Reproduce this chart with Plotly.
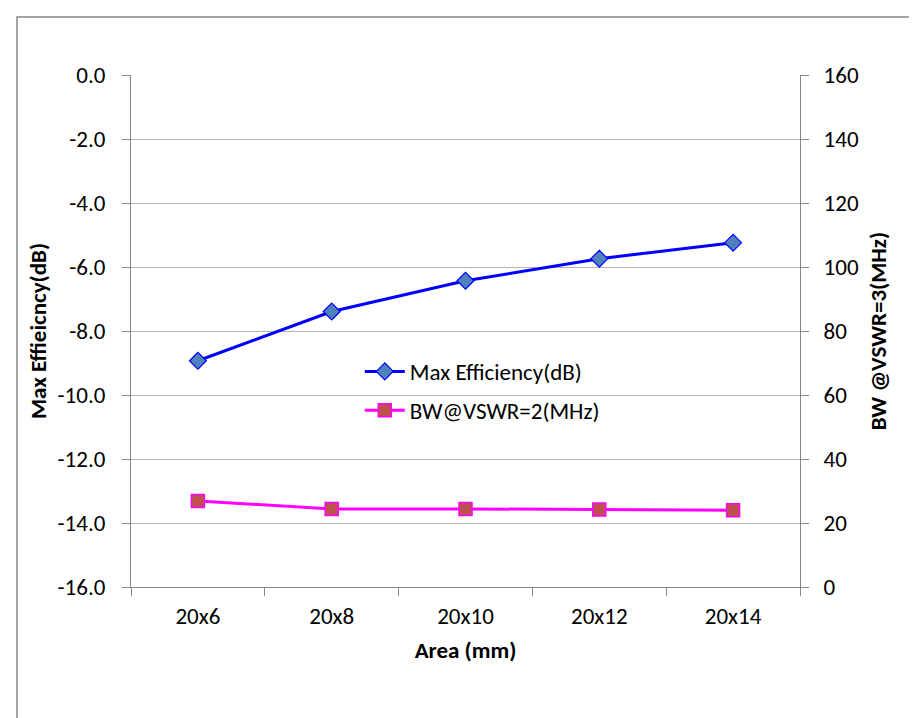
import plotly.graph_objects as go

categories = ["20x6", "20x8", "20x10", "20x12", "20x14"]
max_efficiency_db = [-8.93, -7.39, -6.43, -5.74, -5.24]
bw_mhz = [26.9, 24.4, 24.4, 24.2, 24.0]

left_ticks = [-16, -14, -12, -10, -8, -6, -4, -2, 0]
left_ticktext = ["%.1f" % v for v in left_ticks]
right_ticks = [0, 20, 40, 60, 80, 100, 120, 140, 160]

FONT = "Carlito, 'Liberation Sans Narrow', Calibri, 'Liberation Sans', sans-serif"
FS = 23
AXIS_COL = "#868686"
GRID_COL = "#b3b3b3"

fig = go.Figure()
fig.add_trace(go.Scatter(
    x=categories, y=max_efficiency_db, name="Max Efficiency(dB)",
    mode="lines+markers", legendgroup="a",
    line=dict(color="#0000ff", width=3),
    marker=dict(symbol="diamond", size=13, color="#4f81bd",
                line=dict(color="#0000ff", width=1.2)),
    yaxis="y",
))
fig.add_trace(go.Scatter(
    x=categories, y=bw_mhz, name="BW@VSWR=2(MHz)",
    mode="lines+markers", legendgroup="b",
    line=dict(color="#ff00ff", width=3),
    marker=dict(symbol="square", size=13, color="#c0504d",
                line=dict(color="#ff00ff", width=1.5)),
    yaxis="y2",
))

fig.update_layout(
    width=909, height=710,
    margin=dict(l=123, r=117, t=67, b=131),
    paper_bgcolor="white", plot_bgcolor="white",
    font=dict(family=FONT, size=FS, color="#000000"),
    showlegend=True,
    legend=dict(x=0.342, y=0.463, xanchor="left", yanchor="top",
                bgcolor="rgba(0,0,0,0)", font=dict(size=FS),
                traceorder="grouped", tracegroupgap=6, itemwidth=40),
    xaxis=dict(
        type="category", range=[-0.5, 4.5],
        tickson="boundaries", ticks="outside", ticklen=8, tickcolor=AXIS_COL,
        showline=True, linecolor=AXIS_COL, linewidth=1,
        showgrid=False, zeroline=False,
        title=dict(text="<b>Area (mm)</b>", standoff=13, font=dict(size=FS)),
        ticklabelstandoff=8,
    ),
    yaxis=dict(
        range=[-16, 0], tickvals=left_ticks, ticktext=left_ticktext,
        ticks="outside", ticklen=8, tickcolor=AXIS_COL,
        showline=True, linecolor=AXIS_COL, linewidth=1,
        showgrid=True, gridcolor=GRID_COL, gridwidth=1, zeroline=False,
        title=dict(text="<b>Max Effieicncy(dB)</b>", standoff=4, font=dict(size=FS)),
        ticklabelstandoff=12,
    ),
    yaxis2=dict(
        range=[0, 160], tickvals=right_ticks, overlaying="y", side="right",
        ticks="outside", ticklen=8, tickcolor=AXIS_COL,
        showline=True, linecolor=AXIS_COL, linewidth=1,
        showgrid=False, zeroline=False,
        title=dict(text="<b>BW @VSWR=3(MHz)</b>", standoff=11, font=dict(size=FS)),
        ticklabelstandoff=10,
    ),
    shapes=[dict(type="rect", xref="paper", yref="paper",
                 x0=-0.1704, x1=1.3, y0=-0.4, y1=1.1133,
                 line=dict(color=AXIS_COL, width=1.5), fillcolor="rgba(0,0,0,0)",
                 layer="below")],
)

fig.write_html("out.html")
